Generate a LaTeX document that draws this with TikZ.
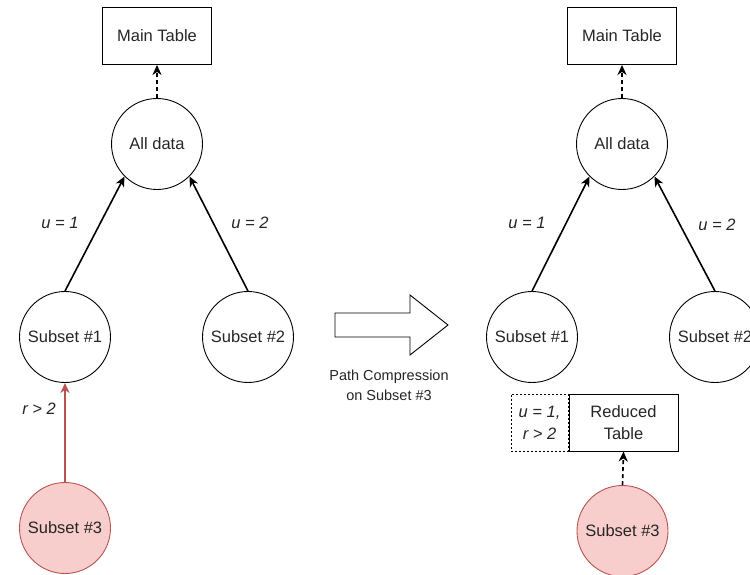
\documentclass[tikz,border=0pt]{standalone}
\usepackage{fontspec}
\setmainfont{Liberation Sans}
\usetikzlibrary{arrows.meta}
\definecolor{redfill}{HTML}{F8CECC}
\definecolor{redline}{HTML}{B85450}
\begin{document}
\begin{tikzpicture}[x=1pt,y=-1pt,
  txt/.style={font=\fontsize{16.5}{22}\selectfont, text=black!85},
  circ/.style={circle, draw, line width=0.9pt, minimum size=91pt, inner sep=0pt, txt},
  redcirc/.style={circ, fill=redfill, draw=redline},
  tbox/.style={rectangle, draw, line width=0.9pt, minimum width=109pt, minimum height=57pt, inner sep=0pt, align=center, txt},
  lbl/.style={txt, font=\fontsize{16.5}{22}\selectfont\itshape, inner sep=1pt},
  solidarr/.style={line width=1.6pt, -{Stealth[length=10pt,width=9pt,inset=3pt]}},
  dasharr/.style={line width=1.6pt, dash pattern=on 4pt off 3pt, -{Stealth[length=10pt,width=9pt,inset=3pt]}},
  redarr/.style={line width=1.6pt, draw=redline, -{Stealth[length=10pt,width=9pt,inset=3pt]}}
]
\useasboundingbox (0,0) rectangle (750,575);
\clip (0,0) rectangle (750,575);
\fill[white] (0,0) rectangle (750,575);

% ---- left tree ----
\node[tbox] (mt1) at (157,36) {Main Table};
\node[circ] (all1) at (157,144) {All data};
\node[circ] (s11) at (65,337) {Subset \#1};
\node[circ] (s21) at (248,337) {Subset \#2};
\node[redcirc] (s31) at (65,528) {Subset \#3};

\draw[dasharr] (all1.north) -- (mt1.south);
\draw[solidarr] (s11.north) -- (all1.225);
\draw[solidarr] (s21.north) -- (all1.315);
\draw[redarr] (s31.north) -- (s11.south);

\node[lbl] (u11) at (60,223) {u = 1};
\node[lbl] (u21) at (250,223) {u = 2};
\node[lbl] (r1) at (39,409) {r > 2};

% ---- middle arrow ----
\draw[line width=0.9pt, fill=white] (335,313) -- (410,313) -- (410,295) -- (448,325) -- (410,355) -- (410,337) -- (335,337) -- cycle;
\node[txt, font=\fontsize{14.5}{20}\selectfont, align=center] (pc) at (389,385) {Path Compression\\on Subset \#3};

% ---- right tree ----
\node[tbox] (mt2) at (622,36) {Main Table};
\node[circ] (all2) at (622,144) {All data};
\node[circ] (s12) at (532,337) {Subset \#1};
\node[circ] (s22) at (715,337) {Subset \#2};
\node[tbox] (rt) at (623.5,422.5) {Reduced\\Table};
\node[rectangle, draw, dash pattern=on 2pt off 2pt, line width=0.9pt, minimum width=57pt, minimum height=57pt, inner sep=0pt, anchor=east, align=center, lbl] (cond) at (rt.west) {u = 1,\\ r > 2};
\node[redcirc] (s32) at (622.5,531) {Subset \#3};

\draw[dasharr] (all2.north) -- (mt2.south);
\draw[solidarr] (s12.north) -- (all2.225);
\draw[solidarr] (s22.north) -- (all2.315);
\draw[dasharr] (s32.north) -- (rt.south);

\node[lbl] (u12) at (527,223) {u = 1};
\node[lbl] (u22) at (717,225) {u = 2};
\end{tikzpicture}
\end{document}
